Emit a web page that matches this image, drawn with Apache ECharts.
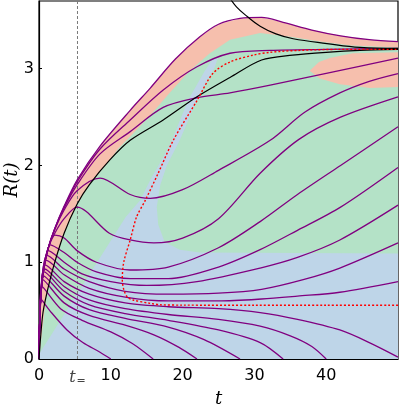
<!DOCTYPE html>
<html>
<head>
<meta charset="utf-8">
<script src="https://cdn.jsdelivr.net/npm/echarts@6/dist/echarts.min.js"></script>
<style>
  html, body { margin: 0; padding: 0; background: #fff; }
  #chart { width: 399px; height: 414px; }
</style>
</head>
<body>
<div id="chart"></div>
<script>
// axis ticks
const xTicks = [0, 10, 20, 30, 40];
const yTicks = [0, 1, 2, 3];
const tEq = 5.36;

// coloured regions of the (t, R) plane
const salmonRegion = [[0,0],[0.1,0.4],[0.3,0.7],[0.7,0.95],[1.3,1.15],[2.2,1.35],[3.5,1.58],[5.3,1.85],[8.5,2.2],[12.7,2.57],[15.5,2.8],[19,3.1],[22.4,3.33],[25,3.46],[28,3.52],[31,3.53],[34,3.48],[38,3.4],[42,3.34],[46,3.3],[50,3.28],[50,0]];
const greenRegion = [[0,0],[1,0.65],[2,0.95],[3.5,1.3],[5.3,1.6],[7,1.8],[9.9,2.06],[11,2.17],[12.7,2.3],[15.5,2.52],[18.3,2.76],[21,2.98],[23.8,3.16],[26.6,3.3],[30.8,3.37],[35,3.33],[39.4,3.28],[43.5,3.24],[50,3.22],[50,0]];
const blueRegion = [[0,0],[50,0],[50,1.09],[22.4,1.1],[19.6,1.13],[17.5,1.21],[16.6,1.39],[16.4,1.57],[16.9,1.8],[17.8,2.0],[19.6,2.26],[22,2.68],[24.5,3.02],[24.9,3.11],[24.1,3.09],[23.1,2.98],[20.8,2.68],[18.5,2.26],[17.1,2.06],[15.5,1.85],[14.1,1.64],[12.1,1.47],[0,0.05]];
const salmonBlob = [[37.7,2.98],[39,3.07],[40.5,3.11],[43.7,3.16],[50,3.17],[50,2.81],[46.1,2.8],[41.9,2.84],[39.1,2.9]];

// trajectories R(t)
const purple = [
  [[0,0],[0.1,0.4],[0.3,0.7],[0.7,0.95],[1.3,1.15],[2.2,1.35],[3.5,1.58],[5.3,1.85],[8.5,2.2],[12.7,2.57],[15.5,2.8],[19,3.1],[22.4,3.33],[25,3.46],[28,3.52],[31,3.53],[34,3.48],[38,3.4],[42,3.34],[46,3.3],[50,3.28]],
  [[0,0],[0.1,0.4],[0.3,0.7],[0.7,0.95],[1.3,1.15],[2.2,1.35],[3.5,1.57],[5.3,1.83],[8.5,2.17],[12.7,2.47],[17.3,2.78],[22,3.02],[26.6,3.16],[32.2,3.19],[40,3.2],[50,3.21]],
  [[0,0],[0.1,0.4],[0.3,0.7],[0.7,0.95],[1.3,1.15],[2.2,1.34],[3.5,1.56],[5.3,1.8],[8.5,2.12],[12.7,2.35],[17.3,2.6],[22,2.7],[26.6,2.75],[32.2,2.83],[40.5,2.96],[50,3.11]],
  [[0,0],[0.1,0.4],[0.3,0.7],[0.7,0.95],[1.3,1.15],[2.2,1.34],[3.5,1.54],[5.3,1.74],[8.5,1.87],[12.7,1.7],[15.5,1.66],[20,1.75],[25,1.95],[32.2,2.26],[37,2.55],[41.9,2.75],[46,2.87],[50,2.95]],
  [[0,0],[0.1,0.4],[0.3,0.7],[0.7,0.95],[1.3,1.15],[2.2,1.3],[3.5,1.45],[5.3,1.57],[9.8,1.3],[12.7,1.23],[16,1.2],[20,1.25],[25,1.45],[30.8,1.92],[36.2,2.27],[42,2.5],[50,2.71]],
  [[0,0],[0.1,0.4],[0.3,0.7],[0.7,0.95],[1.3,1.15],[2.2,1.28],[3.5,1.25],[5.3,1.12],[8,1.0],[12.7,0.92],[18,0.95],[25,1.15],[30.8,1.42],[36,1.7],[42,2.0],[50,2.4]],
  [[0,0],[0.1,0.4],[0.3,0.7],[0.7,0.95],[1.6,1.18],[3.5,1.1],[5.3,1.0],[8,0.9],[12.7,0.83],[18,0.83],[25,0.95],[30.8,1.13],[36,1.33],[42,1.57],[50,1.98]],
  [[0,0],[0.1,0.4],[0.3,0.7],[0.7,0.95],[1.3,1.12],[3.5,1.0],[6,0.88],[10,0.8],[15,0.76],[22,0.8],[30.8,0.94],[36,1.05],[41.9,1.23],[50,1.59]],
  [[0,0],[0.1,0.4],[0.3,0.7],[0.6,0.95],[1.1,1.07],[3.5,0.93],[7,0.8],[12,0.7],[18,0.67],[25,0.68],[31,0.72],[36.8,0.82],[41.9,0.94],[50,1.2]],
  [[0,0],[0.1,0.4],[0.3,0.7],[0.6,0.95],[1,1.02],[3.5,0.87],[7,0.73],[12,0.64],[18,0.6],[25,0.6],[31,0.62],[36,0.65],[41.9,0.69],[50,0.8]],
  [[0,0],[0.1,0.4],[0.3,0.75],[0.9,0.97],[3.5,0.8],[7,0.67],[12,0.58],[18,0.54],[25,0.52],[30.8,0.48],[36,0.41],[41.9,0.3],[46,0.17],[50,0.02]],
  [[0,0],[0.1,0.4],[0.3,0.72],[0.8,0.93],[3.5,0.75],[7,0.61],[12,0.52],[18,0.46],[25,0.41],[30.8,0.34],[35,0.24],[38,0.13],[40,0]],
  [[0,0],[0.1,0.4],[0.3,0.7],[0.7,0.9],[3.5,0.7],[7,0.56],[12,0.47],[18,0.4],[25,0.3],[30.8,0.17],[34,0]],
  [[0,0],[0.1,0.4],[0.3,0.68],[0.6,0.86],[3.5,0.65],[7,0.51],[12,0.42],[18,0.33],[23,0.2],[28,0]],
  [[0,0],[0.1,0.4],[0.3,0.66],[0.5,0.82],[3.5,0.58],[7,0.45],[12,0.35],[16,0.25],[19.5,0.12],[22,0]],
  [[0,0],[0.1,0.4],[0.4,0.75],[3,0.52],[6,0.4],[10,0.28],[13,0.16],[15.9,0]],
  [[0,0],[0.1,0.4],[0.25,0.62],[1.5,0.5],[3.9,0.3],[6.1,0.17],[8.5,0.07],[10,0]]
];
const blackLow = [[0,0],[0.5,0.45],[1,0.65],[2,0.95],[3.5,1.3],[5.3,1.6],[7,1.8],[9.9,2.06],[12.7,2.26],[17.3,2.47],[22,2.71],[26.6,2.91],[31,3.09],[35.3,3.14],[40,3.17],[44.7,3.19],[50,3.2]];
const blackHigh = [[26.4,3.75],[27.5,3.64],[29,3.54],[30.8,3.44],[33,3.36],[35.4,3.31],[40.1,3.26],[44.7,3.22],[50,3.21]];
const redSep = [[50,0.555],[40,0.555],[30,0.555],[20,0.557],[17,0.56],[15.5,0.575],[13.1,0.61],[12.3,0.64],[11.8,0.72],[11.6,0.82],[11.8,1.0],[12.7,1.23],[13.6,1.47],[14.8,1.64],[16.6,1.92],[18.7,2.26],[22,2.67],[24.2,2.95],[26.6,3.07],[29.8,3.14],[32.2,3.17],[36.4,3.19],[41.9,3.2],[50,3.2]];

const regions = [
  { pts: salmonRegion, color: '#f6bfad' },
  { pts: greenRegion, color: '#b4e2c7' },
  { pts: blueRegion, color: '#bed5e8' },
  { pts: salmonBlob, color: '#f6bfad' }
];

const chart = echarts.init(document.getElementById('chart'));

const series = [
  {
    type: 'custom',
    data: regions.map((r, i) => [i]),
    clip: true,
    silent: true,
    z: 1,
    renderItem: function (params, api) {
      const r = regions[params.dataIndex];
      return {
        type: 'polygon',
        shape: { points: r.pts.map(p => api.coord(p)) },
        style: { fill: r.color }
      };
    }
  },
  {
    type: 'line',
    data: [[tEq, 0], [tEq, 3.7]],
    symbol: 'none',
    z: 2,
    lineStyle: { color: '#7a7a7a', width: 1, type: [3, 2] }
  }
];

purple.forEach(function (d) {
  series.push({
    type: 'line', data: d, symbol: 'none', smooth: 0.3, z: 3,
    lineStyle: { color: '#800080', width: 1.3 }
  });
});
series.push({
  type: 'line', data: blackLow, symbol: 'none', smooth: 0.3, z: 4,
  lineStyle: { color: '#000', width: 1.2 }
});
series.push({
  type: 'line', data: blackHigh, symbol: 'none', smooth: 0.4, z: 4,
  lineStyle: { color: '#000', width: 1.2 }
});
series.push({
  type: 'line', data: redSep, symbol: 'none', smooth: 0.3, z: 5,
  lineStyle: { color: '#ff0000', width: 1.4, type: [2, 2] }
});

chart.setOption({
  animation: false,
  grid: { left: 39, right: 1, top: 1, bottom: 55, outerBoundsMode: 'none', show: true, borderColor: '#000', borderWidth: 1.2, backgroundColor: '#fff' },
  xAxis: {
    type: 'value', min: 0, max: 50,
    name: 't', nameLocation: 'middle', nameGap: 31, nameMoveOverlap: false,
    nameTextStyle: { fontFamily: 'DejaVu Serif', fontStyle: 'italic', fontSize: 18, color: '#000' },
    axisLine: { show: true, onZero: false, lineStyle: { color: '#000', width: 1.2 } },
    axisTick: { show: true, inside: true, length: 3, customValues: xTicks, lineStyle: { color: '#000' } },
    axisLabel: {
      customValues: xTicks.concat([tEq]), margin: 9,
      fontFamily: 'DejaVu Sans', fontSize: 16, color: '#000',
      formatter: function (v) { return v === tEq ? '{t|t}{s|=}' : String(v); },
      rich: {
        t: { fontFamily: 'DejaVu Serif', fontStyle: 'italic', fontSize: 16, color: '#444' },
        s: { fontFamily: 'DejaVu Sans', fontSize: 11, color: '#444', verticalAlign: 'bottom', padding: [8, 0, 0, 1] }
      }
    },
    splitLine: { show: false }
  },
  yAxis: {
    type: 'value', min: 0, max: 3.7,
    name: 'R(t)', nameLocation: 'middle', nameGap: 18, nameMoveOverlap: false,
    nameTextStyle: { fontFamily: 'DejaVu Serif', fontStyle: 'italic', fontSize: 18, color: '#000' },
    axisLine: { show: true, onZero: false, lineStyle: { color: '#000', width: 1.2 } },
    axisTick: { show: true, inside: true, length: 3, customValues: yTicks, lineStyle: { color: '#000' } },
    axisLabel: { customValues: yTicks, margin: 5, fontFamily: 'DejaVu Sans', fontSize: 16, color: '#000' },
    splitLine: { show: false }
  },
  series: series
});
</script>
</body>
</html>
